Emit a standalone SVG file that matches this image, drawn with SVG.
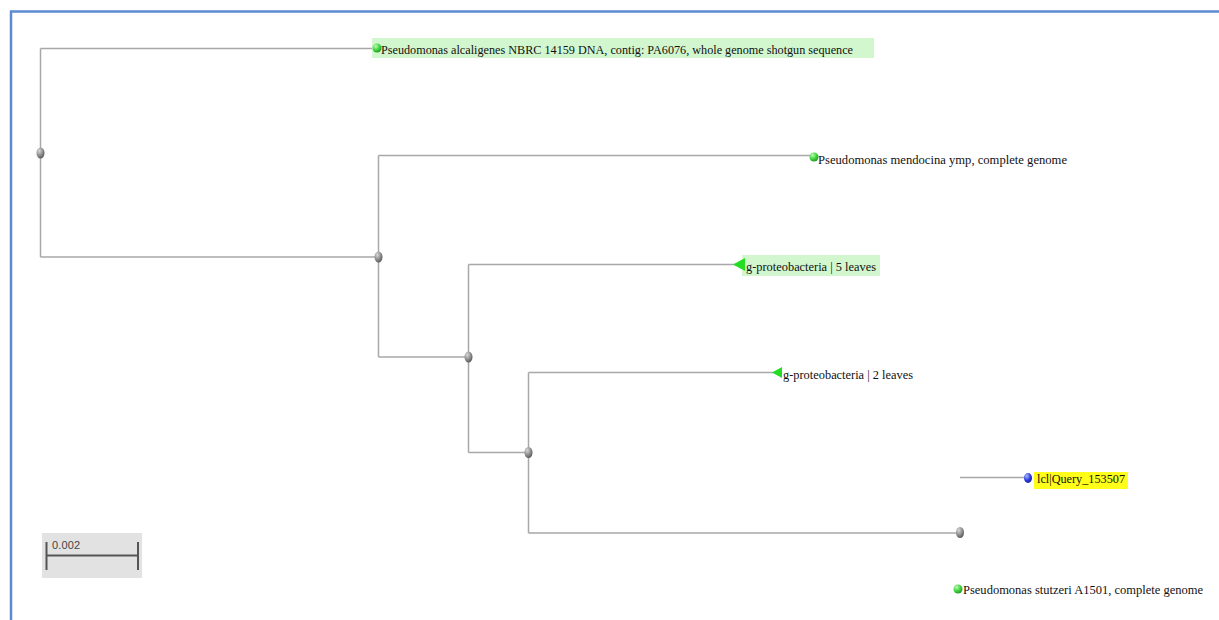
<svg xmlns="http://www.w3.org/2000/svg" width="1219" height="620" viewBox="0 0 1219 620">
<defs>
<radialGradient id="gGray" cx="0.35" cy="0.3" r="0.75"><stop offset="0" stop-color="#d8d8d8"/><stop offset="0.6" stop-color="#8a8a8a"/><stop offset="1" stop-color="#555"/></radialGradient>
<radialGradient id="gGreen" cx="0.35" cy="0.3" r="0.75"><stop offset="0" stop-color="#b8ffb0"/><stop offset="0.6" stop-color="#3ccf3c"/><stop offset="1" stop-color="#1f9a1f"/></radialGradient>
<radialGradient id="gBlue" cx="0.35" cy="0.3" r="0.75"><stop offset="0" stop-color="#a8b8ff"/><stop offset="0.6" stop-color="#2a3be0"/><stop offset="1" stop-color="#14209a"/></radialGradient>
</defs>
<style>
.br{stroke:#a8a8a8;stroke-width:1.5;fill:none}
.lbl{font-family:"Liberation Serif","Times New Roman",serif;font-size:12px;fill:#111}
.hlg{fill:#d2f7cf}
.hly{fill:#ffff1a}
.tri{fill:#22dd22}
</style>
<rect x="0" y="0" width="1219" height="620" fill="#fff"/>
<path d="M11 620 V11.5 H1219" stroke="#5b8bd0" stroke-width="2.5" fill="none"/>
<g id="connectors">
<path class="br" d="M40.5 48.5 V257 M40.5 48.5 H375 M40.5 257 H378"/>
<path class="br" d="M378.5 155.5 V357 M378.5 155.5 H812 M378.5 357 H468"/>
<path class="br" d="M468.5 264.5 V452.5 M468.5 264.5 H736 M468.5 452.5 H528"/>
<path class="br" d="M528.5 372.5 V533 M528.5 372.5 H775 M528.5 533 H958"/>
<path class="br" d="M960 477.5 H1026"/>
</g>
<g id="scale">
<rect x="42" y="533" width="100" height="45" fill="#e2e2e2"/>
<path d="M46.5 555.5 H138 M46.5 542 V570 M138 542 V570" stroke="#555" stroke-width="2" fill="none"/>
<text x="52" y="549" font-family="Liberation Sans,Arial,sans-serif" font-size="11" fill="#444" textLength="28">0.002</text>
</g>
<g id="n-root"><ellipse cx="40.5" cy="153" rx="4" ry="5.5" fill="url(#gGray)"/></g>
<g id="n1"><ellipse cx="378.5" cy="257" rx="4" ry="5.5" fill="url(#gGray)"/></g>
<g id="n2"><ellipse cx="468.5" cy="357" rx="4" ry="5.5" fill="url(#gGray)"/></g>
<g id="n3"><ellipse cx="528.5" cy="452.5" rx="4" ry="5.5" fill="url(#gGray)"/></g>
<g id="n4"><ellipse cx="960" cy="532.5" rx="4" ry="5.5" fill="url(#gGray)"/></g>
<g id="leaf-alcaligenes">
<rect class="hlg" x="372" y="38" width="502" height="20"/>
<circle cx="377" cy="48" r="4.5" fill="url(#gGreen)"/>
<text class="lbl" x="381" y="54" textLength="472" lengthAdjust="spacingAndGlyphs">Pseudomonas alcaligenes NBRC 14159 DNA, contig: PA6076, whole genome shotgun sequence</text>
</g>
<g id="leaf-mendocina">
<circle cx="814" cy="157" r="4.5" fill="url(#gGreen)"/>
<text class="lbl" x="818" y="164" textLength="249" lengthAdjust="spacingAndGlyphs">Pseudomonas mendocina ymp, complete genome</text>
</g>
<g id="clade-5">
<rect class="hlg" x="742" y="255" width="138" height="21"/>
<polygon class="tri" points="733,264.5 745,258 745,271"/>
<text class="lbl" x="746" y="271" textLength="130" lengthAdjust="spacingAndGlyphs">g-proteobacteria | 5 leaves</text>
</g>
<g id="clade-2">
<polygon class="tri" points="772,372.5 782,367 782,378"/>
<text class="lbl" x="783" y="379" textLength="130" lengthAdjust="spacingAndGlyphs">g-proteobacteria | 2 leaves</text>
</g>
<g id="leaf-query">
<rect class="hly" x="1034" y="472" width="94" height="17"/>
<ellipse cx="1028" cy="478" rx="4" ry="5" fill="url(#gBlue)"/>
<text class="lbl" x="1037" y="483" textLength="88" lengthAdjust="spacingAndGlyphs">lcl|Query_153507</text>
</g>
<g id="leaf-stutzeri">
<circle cx="958" cy="589" r="4.5" fill="url(#gGreen)"/>
<text class="lbl" x="963" y="594" textLength="240" lengthAdjust="spacingAndGlyphs">Pseudomonas stutzeri A1501, complete genome</text>
</g>
</svg>
